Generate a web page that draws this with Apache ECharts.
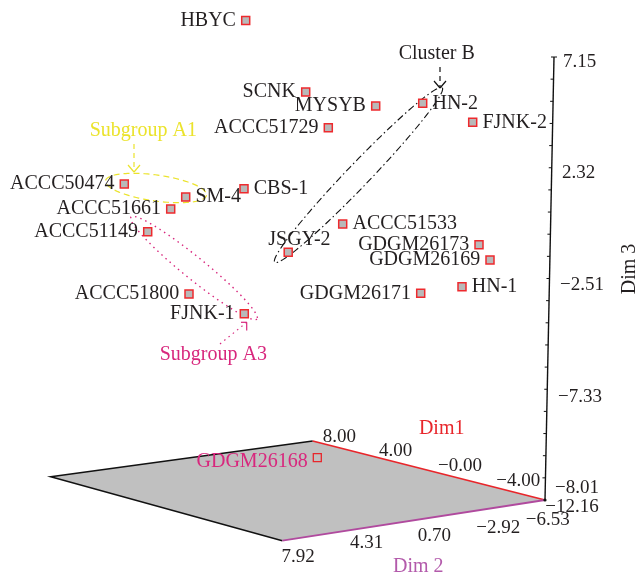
<!DOCTYPE html>
<html><head><meta charset="utf-8">
<script src="https://cdn.jsdelivr.net/npm/echarts@6/dist/echarts.min.js"></script>
<style>html,body{margin:0;padding:0;background:#fff}#c{width:638px;height:576px}</style>
</head><body><div id="c"></div>
<script>
// Strains and their projected (screen-plane) positions
const strainNames = ['HBYC','SCNK','MYSYB','ACCC51729','HN-2','FJNK-2','ACCC50474','CBS-1','SM-4','ACCC51661','ACCC51149','ACCC51533','JSGY-2','GDGM26173','GDGM26169','HN-1','GDGM26171','ACCC51800','FJNK-1','GDGM26168'];
const projX = [245.7,305.7,375.7,328.3,422.7,472.7,124.3,244,185.7,170.7,147.7,342.7,288.2,479,490,462,420.7,189,244.3,317.3];
const projY = [20.5,92,106,127.7,103.3,122.3,184,188.7,197,209,231.7,224,252.2,244.7,260,286.7,293.3,294,313.7,457.7];

// Axis tick labels
const dim1Ticks = ['8.00','4.00','\u22120.00','\u22124.00','\u221212.16'];
const dim2Ticks = ['7.92','4.31','0.70','\u22122.92','\u22126.53'];
const dim3Ticks = ['7.15','2.32','\u22122.51','\u22127.33','\u22128.01'];

// ---- layout (positions / styles) ----
const planeX = [50.7,312.7,545,282.3];
const planeY = [476.7,441,500,540.7];
const dim3Top = [554,57], dim3Bottom = [545,500];
const dim1Pos = [[339.3,436.7],[395.7,450.7],[460,466],[518.3,480.7],[572,507]];
const dim2Pos = [[298,556.7],[366.7,542.7],[434.3,536],[498.3,528.3],[547.7,520]];
const dim3Pos = [[563,61.7],[562,173],[560,285],[558,396.7],[555,488]];
const rightLabels = ['HN-2','FJNK-2','CBS-1','SM-4','ACCC51533','HN-1'];

const FONT = "'Liberation Serif','DejaVu Serif',serif";
const TXT = '#231f20', RED = '#e8262b', PURPLE = '#b04a9e', PINK = '#d8277d', YELLOW = '#ebe32c';

const chart = echarts.init(document.getElementById('c'), null, {renderer:'canvas'});

const points = strainNames.map((n,i)=>{
  const item = {name:n, value:[projX[i],projY[i]]};
  const right = rightLabels.indexOf(n) >= 0;
  item.label = {position: right ? 'right' : 'left'};
  if (n === 'JSGY-2') item.label = {position:[16,-8], align:'center', verticalAlign:'middle'};
  if (n === 'GDGM26168') {
    item.label = {position:[-5,8.5], align:'right', verticalAlign:'middle', color:PINK};
    item.itemStyle = {color:'rgba(0,0,0,0)', borderColor:RED, borderWidth:1.3};
  }
  return item;
});

const texts = [];
dim1Ticks.forEach((t,i)=>texts.push({text:t,x:dim1Pos[i][0],y:dim1Pos[i][1],color:TXT,size:19}));
dim2Ticks.forEach((t,i)=>texts.push({text:t,x:dim2Pos[i][0],y:dim2Pos[i][1],color:TXT,size:19}));
dim3Ticks.forEach((t,i)=>texts.push({text:t,x:dim3Pos[i][0],y:dim3Pos[i][1],color:TXT,size:19,align:'left'}));
texts.push({text:'Dim1',x:441.7,y:428.3,color:RED,size:20});
texts.push({text:'Dim 2',x:418.3,y:566.7,color:'#b35aab',size:20});
texts.push({text:'Dim 3',x:630,y:269,color:TXT,size:20,rot:Math.PI/2});
texts.push({text:'Subgroup A1',x:143.3,y:131,color:YELLOW,size:20});
texts.push({text:'Cluster B',x:436.7,y:54,color:TXT,size:20});
texts.push({text:'Subgroup A3',x:213.3,y:355,color:PINK,size:20});

const ellipses = [
  {cx:156,cy:188,rx:51,ry:13,rot:8,color:YELLOW,dash:[6,4],w:1.2},
  {cx:358.5,cy:175,rx:121,ry:11.5,rot:-46.2,color:'#111',dash:[7,3,1.5,3],w:1.1},
  {cx:194,cy:268,rx:81,ry:11,rot:39,color:PINK,dash:[1.5,4],w:1.4}
];
const arrows = [
  {from:[134,144],to:[134,172],arms:[[128,165],[140,165]],color:YELLOW,dash:[5,4]},
  {from:[440,67],to:[440,88],arms:[[434,81],[446,81]],color:'#111',dash:[5,4]},
  {from:[220,344],to:[246.7,322.3],arms:[[241,322.3],[246.7,330.5]],color:PINK,dash:[1.5,4]}
];

function ellipsePts(e){
  const pts=[]; const th=e.rot*Math.PI/180;
  for(let k=0;k<=120;k++){
    const t=k/120*2*Math.PI;
    const x=e.cx+e.rx*Math.cos(t)*Math.cos(th)-e.ry*Math.sin(t)*Math.sin(th);
    const y=e.cy+e.rx*Math.cos(t)*Math.sin(th)+e.ry*Math.sin(t)*Math.cos(th);
    pts.push([x,y]);
  }
  return pts;
}

const option = {
  animation:false,
  backgroundColor:'#fff',
  grid:{left:0,right:0,top:0,bottom:0},
  xAxis:{type:'value',min:0,max:638,show:false},
  yAxis:{type:'value',min:0,max:576,inverse:true,show:false},
  series:[
    { // floor plane
      type:'custom', silent:true, clip:false, z:1,
      data:[[planeX[0],planeY[0]]],
      renderItem:(params,api)=>{
        const pts = planeX.map((x,i)=>api.coord([x,planeY[i]]));
        return {type:'group',children:[
          {type:'polygon',shape:{points:pts},style:{fill:'#c0c0c0',stroke:null}},
          {type:'polyline',shape:{points:[pts[1],pts[0],pts[3]]},style:{stroke:'#111',lineWidth:1.5,fill:null}},
          {type:'line',shape:{x1:pts[1][0],y1:pts[1][1],x2:pts[2][0],y2:pts[2][1]},style:{stroke:RED,lineWidth:1.8}},
          {type:'line',shape:{x1:pts[3][0],y1:pts[3][1],x2:pts[2][0],y2:pts[2][1]},style:{stroke:PURPLE,lineWidth:1.8}}
        ]};
      }
    },
    { // Dim 3 axis with ticks
      type:'custom', silent:true, clip:false, z:2,
      data:[[dim3Bottom[0],dim3Bottom[1]]],
      renderItem:(params,api)=>{
        const b=api.coord(dim3Bottom), t=api.coord(dim3Top);
        const ch=[{type:'line',shape:{x1:b[0],y1:b[1],x2:t[0],y2:t[1]},style:{stroke:'#111',lineWidth:1.4}}];
        for(let k=1;k<=20;k++){
          const x=b[0]+(t[0]-b[0])*k/20, y=b[1]+(t[1]-b[1])*k/20;
          ch.push({type:'line',shape:{x1:x-3,y1:y,x2:x,y2:y},style:{stroke:'#111',lineWidth:1}});
        }
        ch.push({type:'line',shape:{x1:t[0],y1:t[1],x2:t[0]+3,y2:t[1]},style:{stroke:'#111',lineWidth:1}});
        ch.push({type:'circle',shape:{cx:b[0],cy:b[1],r:1.6},style:{fill:'#111'}});
        return {type:'group',children:ch};
      }
    },
    { // annotation ellipses and arrows
      type:'custom', silent:true, clip:false, z:3,
      data:[[0,0]],
      renderItem:(params,api)=>{
        const ch=[];
        ellipses.forEach(e=>{
          ch.push({type:'polyline',shape:{points:ellipsePts(e).map(p=>api.coord(p))},
            style:{stroke:e.color,lineWidth:e.w,lineDash:e.dash,fill:null}});
        });
        arrows.forEach(a=>{
          const f=api.coord(a.from), t=api.coord(a.to);
          ch.push({type:'line',shape:{x1:f[0],y1:f[1],x2:t[0],y2:t[1]},style:{stroke:a.color,lineWidth:1.2,lineDash:a.dash}});
          a.arms.forEach(m=>{const p=api.coord(m);
            ch.push({type:'line',shape:{x1:p[0],y1:p[1],x2:t[0],y2:t[1]},style:{stroke:a.color,lineWidth:1.2}});});
        });
        return {type:'group',children:ch};
      }
    },
    { // texts
      type:'custom', silent:true, clip:false, z:4,
      data:texts.map((t,i)=>[t.x,t.y,i]),
      renderItem:(params,api)=>{
        const t=texts[params.dataIndex];
        const p=api.coord([t.x,t.y]);
        return {type:'text',x:p[0],y:p[1],rotation:t.rot||0,
          style:{text:t.text,fill:t.color,font:t.size+'px '+FONT,align:t.align||'center',verticalAlign:'middle'}};
      }
    },
    { // strains
      type:'scatter', z:5, silent:true,
      symbol:'rect', symbolSize:8,
      itemStyle:{color:'#b9b9b9',borderColor:'#ee2a2e',borderWidth:1.5,opacity:1},
      label:{show:true,formatter:'{b}',fontFamily:FONT,fontSize:20,color:TXT,distance:5},
      labelLayout:{hideOverlap:false},
      data:points
    }
  ]
};
chart.setOption(option);
</script></body></html>
